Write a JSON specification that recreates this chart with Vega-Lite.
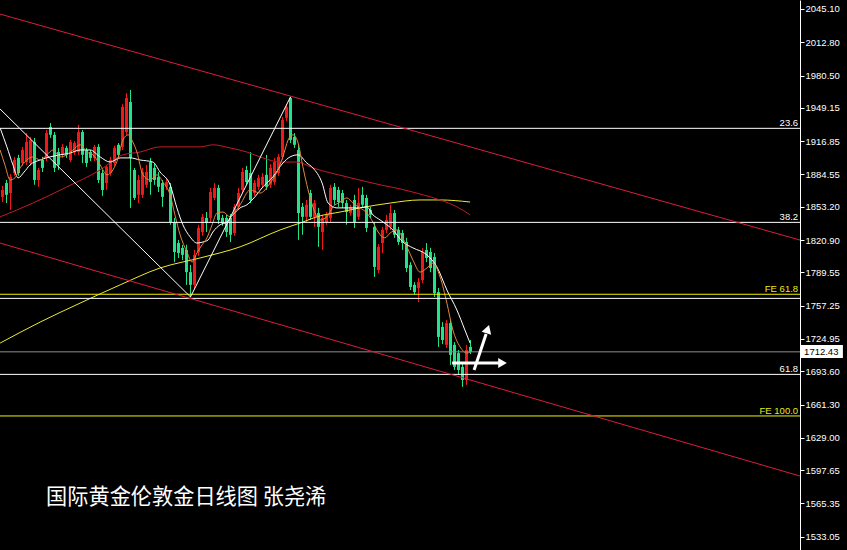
{
  "$schema": "https://vega.github.io/schema/vega-lite/v6.json",
  "width": 800,
  "height": 550,
  "autosize": {"type": "none"},
  "padding": {"left": 0, "top": 0, "right": 47, "bottom": 0},
  "background": "#000000",
  "config": {"view": {"stroke": null}, "scale": {"continuousPadding": 0}},
  "resolve": {"axis": {"y": "independent"}},
  "datasets": {
    "candles": [
      {"i":0,"o":1862.8,"h":1873.5,"l":1857.8,"c":1869.5},
      {"i":1,"o":1876.2,"h":1879.2,"l":1856.8,"c":1864.8},
      {"i":2,"o":1866.5,"h":1884.9,"l":1850.1,"c":1882.2},
      {"i":3,"o":1885.9,"h":1901.6,"l":1883.2,"c":1898.6},
      {"i":4,"o":1900.6,"h":1903.6,"l":1883.2,"c":1885.9},
      {"i":5,"o":1895.6,"h":1911.3,"l":1892.9,"c":1908.3},
      {"i":6,"o":1896.6,"h":1924.7,"l":1893.9,"c":1916.0},
      {"i":7,"o":1895.6,"h":1921.0,"l":1892.9,"c":1918.0},
      {"i":8,"o":1916.0,"h":1920.0,"l":1874.5,"c":1879.2},
      {"i":9,"o":1879.2,"h":1890.9,"l":1872.5,"c":1888.9},
      {"i":10,"o":1898.6,"h":1901.6,"l":1886.9,"c":1890.9},
      {"i":11,"o":1900.6,"h":1927.7,"l":1897.6,"c":1924.7},
      {"i":12,"o":1930.7,"h":1934.4,"l":1920.0,"c":1923.0},
      {"i":13,"o":1923.0,"h":1925.7,"l":1886.9,"c":1890.9},
      {"i":14,"o":1906.3,"h":1910.3,"l":1888.9,"c":1893.9},
      {"i":15,"o":1903.6,"h":1914.0,"l":1900.6,"c":1911.3},
      {"i":16,"o":1910.3,"h":1912.3,"l":1900.6,"c":1903.6},
      {"i":17,"o":1898.6,"h":1918.0,"l":1896.6,"c":1916.0},
      {"i":18,"o":1906.3,"h":1917.0,"l":1903.6,"c":1915.0},
      {"i":19,"o":1906.3,"h":1932.7,"l":1903.6,"c":1925.7},
      {"i":20,"o":1925.7,"h":1927.7,"l":1895.6,"c":1903.6},
      {"i":21,"o":1908.3,"h":1910.3,"l":1891.9,"c":1895.6},
      {"i":22,"o":1906.3,"h":1908.3,"l":1897.6,"c":1900.6},
      {"i":23,"o":1900.6,"h":1913.3,"l":1897.6,"c":1911.3},
      {"i":24,"o":1911.3,"h":1914.0,"l":1876.2,"c":1879.2},
      {"i":25,"o":1885.9,"h":1888.9,"l":1863.8,"c":1869.5},
      {"i":26,"o":1876.2,"h":1893.9,"l":1869.5,"c":1891.9},
      {"i":27,"o":1885.9,"h":1901.6,"l":1883.2,"c":1898.6},
      {"i":28,"o":1895.6,"h":1912.3,"l":1892.9,"c":1910.3},
      {"i":29,"o":1913.3,"h":1915.0,"l":1900.6,"c":1903.6},
      {"i":30,"o":1911.3,"h":1952.8,"l":1908.3,"c":1950.1},
      {"i":31,"o":1925.7,"h":1963.5,"l":1923.0,"c":1958.8},
      {"i":32,"o":1954.8,"h":1966.5,"l":1852.1,"c":1900.6},
      {"i":33,"o":1888.9,"h":1890.9,"l":1859.8,"c":1861.8},
      {"i":34,"o":1864.8,"h":1884.2,"l":1856.8,"c":1879.2},
      {"i":35,"o":1864.8,"h":1890.9,"l":1861.8,"c":1886.9},
      {"i":36,"o":1874.5,"h":1893.9,"l":1871.5,"c":1886.9},
      {"i":37,"o":1896.6,"h":1900.6,"l":1864.8,"c":1877.2},
      {"i":38,"o":1890.9,"h":1895.6,"l":1874.5,"c":1879.2},
      {"i":39,"o":1882.2,"h":1886.9,"l":1867.5,"c":1872.5},
      {"i":40,"o":1876.2,"h":1879.2,"l":1853.1,"c":1862.8},
      {"i":41,"o":1872.5,"h":1881.2,"l":1869.5,"c":1877.2},
      {"i":42,"o":1872.5,"h":1876.2,"l":1835.7,"c":1838.4},
      {"i":43,"o":1838.4,"h":1842.4,"l":1799.5,"c":1809.3},
      {"i":44,"o":1818.0,"h":1821.0,"l":1803.5,"c":1808.3},
      {"i":45,"o":1813.3,"h":1816.3,"l":1801.5,"c":1806.5},
      {"i":46,"o":1811.3,"h":1816.3,"l":1777.4,"c":1789.8},
      {"i":47,"o":1789.8,"h":1796.8,"l":1765.7,"c":1777.4},
      {"i":48,"o":1777.4,"h":1811.3,"l":1772.4,"c":1806.5},
      {"i":49,"o":1809.3,"h":1835.7,"l":1805.5,"c":1832.7},
      {"i":50,"o":1828.7,"h":1846.1,"l":1825.0,"c":1843.4},
      {"i":51,"o":1842.4,"h":1848.1,"l":1828.7,"c":1837.4},
      {"i":52,"o":1842.4,"h":1871.5,"l":1838.4,"c":1867.5},
      {"i":53,"o":1861.8,"h":1876.2,"l":1859.8,"c":1871.5},
      {"i":54,"o":1871.5,"h":1874.5,"l":1836.4,"c":1840.4},
      {"i":55,"o":1842.4,"h":1845.4,"l":1834.7,"c":1837.4},
      {"i":56,"o":1842.4,"h":1845.4,"l":1824.0,"c":1828.7},
      {"i":57,"o":1842.4,"h":1846.1,"l":1819.0,"c":1826.0},
      {"i":58,"o":1827.7,"h":1855.8,"l":1825.0,"c":1853.1},
      {"i":59,"o":1853.1,"h":1871.5,"l":1850.1,"c":1866.5},
      {"i":60,"o":1869.5,"h":1890.9,"l":1866.5,"c":1886.9},
      {"i":61,"o":1888.9,"h":1892.9,"l":1874.5,"c":1877.2},
      {"i":62,"o":1885.9,"h":1906.3,"l":1856.8,"c":1859.8},
      {"i":63,"o":1866.5,"h":1879.2,"l":1863.8,"c":1876.2},
      {"i":64,"o":1872.5,"h":1884.2,"l":1869.5,"c":1881.2},
      {"i":65,"o":1874.5,"h":1885.9,"l":1871.5,"c":1882.2},
      {"i":66,"o":1884.2,"h":1903.6,"l":1869.5,"c":1872.5},
      {"i":67,"o":1874.5,"h":1894.6,"l":1871.5,"c":1890.9},
      {"i":68,"o":1877.2,"h":1900.6,"l":1874.5,"c":1896.6},
      {"i":69,"o":1885.9,"h":1904.3,"l":1883.2,"c":1901.6},
      {"i":70,"o":1901.6,"h":1940.4,"l":1898.6,"c":1937.4},
      {"i":71,"o":1939.4,"h":1952.8,"l":1936.4,"c":1950.1},
      {"i":72,"o":1958.8,"h":1959.8,"l":1915.0,"c":1918.0},
      {"i":73,"o":1921.0,"h":1924.7,"l":1910.3,"c":1913.3},
      {"i":74,"o":1908.3,"h":1913.3,"l":1821.0,"c":1847.1},
      {"i":75,"o":1853.1,"h":1856.8,"l":1826.0,"c":1843.4},
      {"i":76,"o":1843.4,"h":1859.8,"l":1838.4,"c":1855.1},
      {"i":77,"o":1866.5,"h":1869.5,"l":1840.4,"c":1843.4},
      {"i":78,"o":1843.4,"h":1859.8,"l":1833.7,"c":1856.8},
      {"i":79,"o":1847.1,"h":1852.1,"l":1814.3,"c":1833.7},
      {"i":80,"o":1828.7,"h":1845.4,"l":1811.3,"c":1842.4},
      {"i":81,"o":1838.4,"h":1848.1,"l":1835.7,"c":1845.4},
      {"i":82,"o":1842.4,"h":1874.5,"l":1838.4,"c":1871.5},
      {"i":83,"o":1872.5,"h":1876.2,"l":1855.1,"c":1859.8},
      {"i":84,"o":1869.5,"h":1872.5,"l":1853.1,"c":1857.8},
      {"i":85,"o":1866.5,"h":1869.5,"l":1852.1,"c":1856.8},
      {"i":86,"o":1856.8,"h":1859.8,"l":1835.7,"c":1848.1},
      {"i":87,"o":1847.1,"h":1855.1,"l":1844.4,"c":1853.1},
      {"i":88,"o":1859.8,"h":1864.8,"l":1832.7,"c":1838.4},
      {"i":89,"o":1843.4,"h":1871.5,"l":1840.4,"c":1856.8},
      {"i":90,"o":1864.8,"h":1872.5,"l":1852.1,"c":1855.1},
      {"i":91,"o":1861.8,"h":1864.8,"l":1828.7,"c":1832.7},
      {"i":92,"o":1850.1,"h":1853.1,"l":1842.4,"c":1845.4},
      {"i":93,"o":1833.7,"h":1838.4,"l":1785.1,"c":1794.8},
      {"i":94,"o":1791.8,"h":1817.0,"l":1788.8,"c":1814.3},
      {"i":95,"o":1818.0,"h":1833.7,"l":1808.3,"c":1830.7},
      {"i":96,"o":1830.7,"h":1845.4,"l":1827.7,"c":1840.4},
      {"i":97,"o":1833.7,"h":1855.1,"l":1830.7,"c":1847.1},
      {"i":98,"o":1847.1,"h":1850.1,"l":1823.0,"c":1826.0},
      {"i":99,"o":1830.7,"h":1833.7,"l":1816.3,"c":1819.0},
      {"i":100,"o":1827.7,"h":1830.7,"l":1811.3,"c":1818.0},
      {"i":101,"o":1819.0,"h":1823.0,"l":1789.8,"c":1793.8},
      {"i":102,"o":1796.8,"h":1799.5,"l":1772.4,"c":1775.4},
      {"i":103,"o":1777.4,"h":1780.1,"l":1767.7,"c":1770.4},
      {"i":104,"o":1774.4,"h":1784.1,"l":1760.7,"c":1780.1},
      {"i":105,"o":1782.1,"h":1813.3,"l":1779.1,"c":1809.3},
      {"i":106,"o":1811.3,"h":1818.0,"l":1799.5,"c":1803.5},
      {"i":107,"o":1809.3,"h":1813.3,"l":1789.8,"c":1793.8},
      {"i":108,"o":1804.5,"h":1808.3,"l":1765.7,"c":1769.4},
      {"i":109,"o":1770.4,"h":1774.4,"l":1717.2,"c":1726.9},
      {"i":110,"o":1736.6,"h":1741.3,"l":1719.9,"c":1723.9},
      {"i":111,"o":1719.2,"h":1743.3,"l":1716.2,"c":1740.3},
      {"i":112,"o":1740.3,"h":1743.3,"l":1699.8,"c":1709.5},
      {"i":113,"o":1719.2,"h":1721.9,"l":1694.8,"c":1697.8},
      {"i":114,"o":1711.2,"h":1714.2,"l":1690.1,"c":1694.8},
      {"i":115,"o":1697.8,"h":1701.5,"l":1678.4,"c":1685.1},
      {"i":116,"o":1685.1,"h":1719.2,"l":1680.4,"c":1714.2},
      {"i":117,"o":1717.2,"h":1723.9,"l":1710.2,"c":1712.43}
    ],
    "ma": [
      {"s":"MA120","i":-0.6,"v":1720.9},{"s":"MA120","i":9.4,"v":1741.3},{"s":"MA120","i":19.4,"v":1759.7},{"s":"MA120","i":29.4,"v":1777.4},{"s":"MA120","i":39.4,"v":1793.8},{"s":"MA120","i":49.4,"v":1803.5},{"s":"MA120","i":59.4,"v":1814.3},{"s":"MA120","i":69.4,"v":1830.7},{"s":"MA120","i":74.4,"v":1837.4},{"s":"MA120","i":79.4,"v":1844.4},{"s":"MA120","i":84.4,"v":1848.1},{"s":"MA120","i":89.4,"v":1852.1},{"s":"MA120","i":96.9,"v":1856.8},{"s":"MA120","i":104.4,"v":1859.8},{"s":"MA120","i":109.4,"v":1859.8},{"s":"MA120","i":116.9,"v":1857.8},
      {"s":"MA60","i":-0.6,"v":1843.4},{"s":"MA60","i":7.6,"v":1856.8},{"s":"MA60","i":16.1,"v":1872.5},{"s":"MA60","i":24.4,"v":1888.9},{"s":"MA60","i":30.1,"v":1903.6},{"s":"MA60","i":34.4,"v":1906.3},{"s":"MA60","i":39.4,"v":1911.3},{"s":"MA60","i":49.4,"v":1911.3},{"s":"MA60","i":52.6,"v":1913.3},{"s":"MA60","i":56.9,"v":1910.3},{"s":"MA60","i":61.1,"v":1906.3},{"s":"MA60","i":65.1,"v":1900.6},{"s":"MA60","i":69.4,"v":1896.6},{"s":"MA60","i":73.6,"v":1896.6},{"s":"MA60","i":77.6,"v":1890.9},{"s":"MA60","i":86.1,"v":1882.2},{"s":"MA60","i":94.4,"v":1874.5},{"s":"MA60","i":99.4,"v":1870.5},{"s":"MA60","i":105.1,"v":1864.8},{"s":"MA60","i":109.4,"v":1859.8},{"s":"MA60","i":113.6,"v":1853.1},{"s":"MA60","i":116.9,"v":1845.4},
      {"s":"MA10","i":-0.6,"v":1929.7},{"s":"MA10","i":1.1,"v":1911.3},{"s":"MA10","i":2.6,"v":1893.9},{"s":"MA10","i":3.9,"v":1881.2},{"s":"MA10","i":5.4,"v":1886.9},{"s":"MA10","i":6.9,"v":1893.9},{"s":"MA10","i":9.4,"v":1898.6},{"s":"MA10","i":11.9,"v":1901.6},{"s":"MA10","i":14.4,"v":1903.6},{"s":"MA10","i":16.9,"v":1905.3},{"s":"MA10","i":19.4,"v":1908.3},{"s":"MA10","i":21.9,"v":1908.3},{"s":"MA10","i":24.4,"v":1901.6},{"s":"MA10","i":26.9,"v":1896.6},{"s":"MA10","i":29.4,"v":1900.6},{"s":"MA10","i":31.9,"v":1900.6},{"s":"MA10","i":34.4,"v":1898.6},{"s":"MA10","i":37.6,"v":1896.6},{"s":"MA10","i":39.4,"v":1886.9},{"s":"MA10","i":41.9,"v":1874.5},{"s":"MA10","i":43.6,"v":1852.1},{"s":"MA10","i":45.1,"v":1835.7},{"s":"MA10","i":46.9,"v":1824.0},{"s":"MA10","i":48.6,"v":1818.0},{"s":"MA10","i":50.1,"v":1819.0},{"s":"MA10","i":51.4,"v":1821.0},{"s":"MA10","i":52.6,"v":1828.7},{"s":"MA10","i":54.4,"v":1835.7},{"s":"MA10","i":56.1,"v":1838.4},{"s":"MA10","i":57.6,"v":1845.4},{"s":"MA10","i":59.4,"v":1852.1},{"s":"MA10","i":61.1,"v":1855.1},{"s":"MA10","i":63.1,"v":1862.8},{"s":"MA10","i":65.1,"v":1872.5},{"s":"MA10","i":67.6,"v":1882.2},{"s":"MA10","i":70.1,"v":1895.6},{"s":"MA10","i":71.9,"v":1901.6},{"s":"MA10","i":73.9,"v":1903.6},{"s":"MA10","i":76.1,"v":1895.6},{"s":"MA10","i":77.6,"v":1890.9},{"s":"MA10","i":79.9,"v":1876.2},{"s":"MA10","i":81.4,"v":1856.8},{"s":"MA10","i":83.6,"v":1852.1},{"s":"MA10","i":86.1,"v":1852.1},{"s":"MA10","i":88.6,"v":1852.1},{"s":"MA10","i":91.1,"v":1853.1},{"s":"MA10","i":92.6,"v":1845.4},{"s":"MA10","i":94.4,"v":1840.4},{"s":"MA10","i":97.6,"v":1830.7},{"s":"MA10","i":100.1,"v":1819.0},{"s":"MA10","i":102.6,"v":1813.3},{"s":"MA10","i":106.1,"v":1806.5},{"s":"MA10","i":108.6,"v":1794.8},{"s":"MA10","i":111.1,"v":1772.4},{"s":"MA10","i":113.6,"v":1753.0},{"s":"MA10","i":115.6,"v":1733.6},{"s":"MA10","i":116.9,"v":1720.9},
      {"s":"MA5","i":-0.6,"v":1908.3},{"s":"MA5","i":0.6,"v":1893.9},{"s":"MA5","i":1.9,"v":1879.2},{"s":"MA5","i":3.1,"v":1881.2},{"s":"MA5","i":4.4,"v":1890.9},{"s":"MA5","i":6.1,"v":1898.6},{"s":"MA5","i":7.6,"v":1901.6},{"s":"MA5","i":9.4,"v":1898.6},{"s":"MA5","i":11.1,"v":1903.6},{"s":"MA5","i":12.6,"v":1908.3},{"s":"MA5","i":14.4,"v":1901.6},{"s":"MA5","i":16.1,"v":1903.6},{"s":"MA5","i":17.6,"v":1908.3},{"s":"MA5","i":19.4,"v":1913.3},{"s":"MA5","i":21.1,"v":1906.3},{"s":"MA5","i":22.6,"v":1903.6},{"s":"MA5","i":24.4,"v":1893.9},{"s":"MA5","i":26.1,"v":1884.2},{"s":"MA5","i":27.6,"v":1888.9},{"s":"MA5","i":28.9,"v":1900.6},{"s":"MA5","i":30.1,"v":1918.0},{"s":"MA5","i":31.4,"v":1923.0},{"s":"MA5","i":32.6,"v":1916.0},{"s":"MA5","i":33.6,"v":1906.3},{"s":"MA5","i":35.1,"v":1884.2},{"s":"MA5","i":36.9,"v":1879.2},{"s":"MA5","i":38.6,"v":1884.2},{"s":"MA5","i":40.1,"v":1877.2},{"s":"MA5","i":41.9,"v":1864.8},{"s":"MA5","i":43.1,"v":1845.4},{"s":"MA5","i":44.4,"v":1826.0},{"s":"MA5","i":46.1,"v":1809.3},{"s":"MA5","i":47.4,"v":1799.5},{"s":"MA5","i":48.6,"v":1808.3},{"s":"MA5","i":49.9,"v":1816.3},{"s":"MA5","i":51.1,"v":1823.0},{"s":"MA5","i":52.4,"v":1835.7},{"s":"MA5","i":53.6,"v":1847.1},{"s":"MA5","i":55.1,"v":1848.1},{"s":"MA5","i":56.9,"v":1843.4},{"s":"MA5","i":58.1,"v":1848.1},{"s":"MA5","i":59.4,"v":1855.1},{"s":"MA5","i":61.9,"v":1869.5},{"s":"MA5","i":64.4,"v":1866.5},{"s":"MA5","i":66.9,"v":1876.2},{"s":"MA5","i":68.6,"v":1886.9},{"s":"MA5","i":70.1,"v":1901.6},{"s":"MA5","i":71.4,"v":1918.0},{"s":"MA5","i":72.6,"v":1923.0},{"s":"MA5","i":73.9,"v":1915.0},{"s":"MA5","i":75.1,"v":1891.9},{"s":"MA5","i":76.4,"v":1869.5},{"s":"MA5","i":77.6,"v":1853.1},{"s":"MA5","i":79.4,"v":1840.4},{"s":"MA5","i":81.1,"v":1843.4},{"s":"MA5","i":82.6,"v":1853.1},{"s":"MA5","i":84.4,"v":1857.8},{"s":"MA5","i":86.1,"v":1861.8},{"s":"MA5","i":87.6,"v":1856.8},{"s":"MA5","i":89.4,"v":1852.1},{"s":"MA5","i":91.1,"v":1847.1},{"s":"MA5","i":92.6,"v":1838.4},{"s":"MA5","i":93.9,"v":1828.7},{"s":"MA5","i":95.6,"v":1823.0},{"s":"MA5","i":96.9,"v":1827.7},{"s":"MA5","i":98.6,"v":1830.7},{"s":"MA5","i":99.9,"v":1824.0},{"s":"MA5","i":101.1,"v":1814.3},{"s":"MA5","i":102.6,"v":1801.5},{"s":"MA5","i":104.4,"v":1789.8},{"s":"MA5","i":106.1,"v":1793.8},{"s":"MA5","i":107.6,"v":1798.5},{"s":"MA5","i":109.4,"v":1785.1},{"s":"MA5","i":111.1,"v":1759.7},{"s":"MA5","i":112.6,"v":1733.6},{"s":"MA5","i":114.4,"v":1717.2},{"s":"MA5","i":116.1,"v":1711.2},{"s":"MA5","i":116.9,"v":1712.2}
    ],
    "fib": [
      {"lab":"23.6","p":1929.3},
      {"lab":"38.2","p":1838.05},
      {"lab":"61.8","p":1690.55}
    ],
    "fibline": [
      {"p":1929.3},
      {"p":1838.05},
      {"p":1764.3},
      {"p":1690.55}
    ],
    "fe": [
      {"lab":"FE 61.8","p":1768.3},
      {"lab":"FE 100.0","p":1650.2}
    ],
    "trend": [
      {"t":"upper","i":-0.625,"p":2040.2},
      {"t":"upper","i":199.375,"p":1820.9},
      {"t":"lower","i":-0.625,"p":1818.0},
      {"t":"lower","i":199.375,"p":1591.9}
    ],
    "zigzag": [
      {"i":-0.625,"p":1948.1},
      {"i":47,"p":1765.7},
      {"i":72,"p":1959.8}
    ],
    "arrows": [
      {"a":"h","i":112.4,"p":1701.6},
      {"a":"h","i":124.1,"p":1701.6},
      {"a":"u","i":117.9,"p":1694.8},
      {"a":"u","i":120.9,"p":1729.7}
    ]
  },
  "layer": [
    {
      "data": {"name": "candles"},
      "mark": {"type": "rule", "strokeWidth": 1},
      "encoding": {
        "x": {"field": "i", "type": "quantitative", "scale": {"domain": [-0.625, 199.375], "nice": false, "zero": false, "padding": 0}, "axis": null},
        "y": {"field": "l", "type": "quantitative", "scale": {"domain": [1520.14, 2053.83], "nice": false, "zero": false, "padding": 0},
          "axis": {"orient": "right", "title": null, "grid": false, "format": ".2f",
            "values": [2045.10, 2012.80, 1980.50, 1949.15, 1916.85, 1884.55, 1853.20, 1820.90, 1789.55, 1757.25, 1724.95, 1693.60, 1661.30, 1629.00, 1597.65, 1565.35, 1533.05],
            "domainColor": "#ffffff", "domainWidth": 1, "tickColor": "#ffffff", "tickSize": 4, "tickWidth": 1,
            "labelColor": "#ffffff", "labelFont": "Liberation Sans", "labelFontSize": 9.5, "labelPadding": 1,
            "labelOverlap": false, "labelBound": false, "labelFlush": false}},
        "y2": {"field": "h"},
        "color": {"condition": {"test": "datum.c >= datum.o", "value": "#f01818"}, "value": "#22e28a"}
      }
    },
    {
      "data": {"name": "candles"},
      "mark": {"type": "bar", "size": 3},
      "encoding": {
        "x": {"field": "i", "type": "quantitative", "scale": {"domain": [-0.625, 199.375], "nice": false, "zero": false, "padding": 0}, "axis": null},
        "y": {"field": "o", "type": "quantitative", "scale": {"domain": [1520.14, 2053.83], "nice": false, "zero": false, "padding": 0}, "axis": null},
        "y2": {"field": "c"},
        "color": {"condition": {"test": "datum.c >= datum.o", "value": "#f01818"}, "value": "#22e28a"}
      }
    },
    {
      "data": {"name": "ma"},
      "mark": {"type": "line", "strokeWidth": 1, "interpolate": "monotone"},
      "encoding": {
        "x": {"field": "i", "type": "quantitative", "scale": {"domain": [-0.625, 199.375], "nice": false, "zero": false, "padding": 0}, "axis": null},
        "y": {"field": "v", "type": "quantitative", "scale": {"domain": [1520.14, 2053.83], "nice": false, "zero": false, "padding": 0}, "axis": null},
        "color": {"field": "s", "type": "nominal", "legend": null,
          "scale": {"domain": ["MA120", "MA60", "MA10", "MA5"], "range": ["#ecec2a", "#c41a2a", "#ffffff", "#e0883a"]}},
        "order": {"field": "i", "type": "quantitative"}
      }
    },
    {
      "data": {"name": "fibline"},
      "mark": {"type": "rule", "color": "#ffffff", "strokeWidth": 1},
      "encoding": {
        "y": {"field": "p", "type": "quantitative", "scale": {"domain": [1520.14, 2053.83], "nice": false, "zero": false, "padding": 0}, "axis": null}
      }
    },
    {
      "data": {"name": "fib"},
      "mark": {"type": "text", "align": "right", "baseline": "alphabetic", "dy": -2, "font": "Liberation Sans", "fontSize": 9.5, "color": "#ffffff"},
      "encoding": {
        "x": {"datum": 198.9, "type": "quantitative", "scale": {"domain": [-0.625, 199.375], "nice": false, "zero": false, "padding": 0}, "axis": null},
        "y": {"field": "p", "type": "quantitative", "scale": {"domain": [1520.14, 2053.83], "nice": false, "zero": false, "padding": 0}, "axis": null},
        "text": {"field": "lab"}
      }
    },
    {
      "data": {"name": "fe"},
      "mark": {"type": "rule", "color": "#f2f200", "strokeWidth": 1},
      "encoding": {
        "y": {"field": "p", "type": "quantitative", "scale": {"domain": [1520.14, 2053.83], "nice": false, "zero": false, "padding": 0}, "axis": null}
      }
    },
    {
      "data": {"name": "fe"},
      "mark": {"type": "text", "align": "right", "baseline": "alphabetic", "dy": -2, "font": "Liberation Sans", "fontSize": 9.5, "color": "#eaea1a"},
      "encoding": {
        "x": {"datum": 198.9, "type": "quantitative", "scale": {"domain": [-0.625, 199.375], "nice": false, "zero": false, "padding": 0}, "axis": null},
        "y": {"field": "p", "type": "quantitative", "scale": {"domain": [1520.14, 2053.83], "nice": false, "zero": false, "padding": 0}, "axis": null},
        "text": {"field": "lab"}
      }
    },
    {
      "data": {"values": [{"p": 1712.43}]},
      "mark": {"type": "rule", "color": "#8c8c8c", "strokeWidth": 1},
      "encoding": {
        "y": {"field": "p", "type": "quantitative", "scale": {"domain": [1520.14, 2053.83], "nice": false, "zero": false, "padding": 0}, "axis": null}
      }
    },
    {
      "data": {"name": "trend"},
      "mark": {"type": "line", "color": "#dc1c40", "strokeWidth": 1},
      "encoding": {
        "x": {"field": "i", "type": "quantitative", "scale": {"domain": [-0.625, 199.375], "nice": false, "zero": false, "padding": 0}, "axis": null},
        "y": {"field": "p", "type": "quantitative", "scale": {"domain": [1520.14, 2053.83], "nice": false, "zero": false, "padding": 0}, "axis": null},
        "detail": {"field": "t"}
      }
    },
    {
      "data": {"name": "zigzag"},
      "mark": {"type": "line", "color": "#ffffff", "strokeWidth": 1},
      "encoding": {
        "x": {"field": "i", "type": "quantitative", "scale": {"domain": [-0.625, 199.375], "nice": false, "zero": false, "padding": 0}, "axis": null},
        "y": {"field": "p", "type": "quantitative", "scale": {"domain": [1520.14, 2053.83], "nice": false, "zero": false, "padding": 0}, "axis": null}
      }
    },
    {
      "data": {"name": "arrows"},
      "mark": {"type": "line", "color": "#ffffff", "strokeWidth": 3},
      "encoding": {
        "x": {"field": "i", "type": "quantitative", "scale": {"domain": [-0.625, 199.375], "nice": false, "zero": false, "padding": 0}, "axis": null},
        "y": {"field": "p", "type": "quantitative", "scale": {"domain": [1520.14, 2053.83], "nice": false, "zero": false, "padding": 0}, "axis": null},
        "detail": {"field": "a"}
      }
    },
    {
      "data": {"values": [{"i": 125.0, "p": 1701.6}]},
      "mark": {"type": "point", "shape": "triangle-right", "filled": true, "size": 100, "color": "#ffffff", "opacity": 1},
      "encoding": {
        "x": {"field": "i", "type": "quantitative", "scale": {"domain": [-0.625, 199.375], "nice": false, "zero": false, "padding": 0}, "axis": null},
        "y": {"field": "p", "type": "quantitative", "scale": {"domain": [1520.14, 2053.83], "nice": false, "zero": false, "padding": 0}, "axis": null}
      }
    },
    {
      "data": {"values": [{"i": 121.3, "p": 1734.5}]},
      "mark": {"type": "point", "shape": "triangle-up", "angle": 18, "filled": true, "size": 100, "color": "#ffffff", "opacity": 1},
      "encoding": {
        "x": {"field": "i", "type": "quantitative", "scale": {"domain": [-0.625, 199.375], "nice": false, "zero": false, "padding": 0}, "axis": null},
        "y": {"field": "p", "type": "quantitative", "scale": {"domain": [1520.14, 2053.83], "nice": false, "zero": false, "padding": 0}, "axis": null}
      }
    },
    {
      "data": {"values": [{"t": "国际黄金伦敦金日线图 张尧浠"}]},
      "mark": {"type": "text", "align": "left", "baseline": "middle", "font": "Noto Sans CJK SC", "fontSize": 21.2, "color": "#ffffff"},
      "encoding": {
        "x": {"datum": 10.9, "type": "quantitative", "scale": {"domain": [-0.625, 199.375], "nice": false, "zero": false, "padding": 0}, "axis": null},
        "y": {"datum": 1570.2, "type": "quantitative", "scale": {"domain": [1520.14, 2053.83], "nice": false, "zero": false, "padding": 0}, "axis": null},
        "text": {"field": "t"}
      }
    },
    {
      "data": {"values": [{"p": 1712.43}]},
      "mark": {"type": "rect", "color": "#ffffff"},
      "encoding": {
        "x": {"datum": 199.6, "type": "quantitative", "scale": {"domain": [-0.625, 199.375], "nice": false, "zero": false, "padding": 0}, "axis": null},
        "x2": {"datum": 210.1},
        "y": {"datum": 1719.1, "type": "quantitative", "scale": {"domain": [1520.14, 2053.83], "nice": false, "zero": false, "padding": 0}, "axis": null},
        "y2": {"datum": 1706.4}
      }
    },
    {
      "data": {"values": [{"p": 1712.43}]},
      "mark": {"type": "text", "align": "left", "baseline": "middle", "font": "Liberation Sans", "fontSize": 9.5, "color": "#000000"},
      "encoding": {
        "x": {"datum": 200.4, "type": "quantitative", "scale": {"domain": [-0.625, 199.375], "nice": false, "zero": false, "padding": 0}, "axis": null},
        "y": {"field": "p", "type": "quantitative", "scale": {"domain": [1520.14, 2053.83], "nice": false, "zero": false, "padding": 0}, "axis": null},
        "text": {"field": "p", "format": ".2f"}
      }
    }
  ]
}
